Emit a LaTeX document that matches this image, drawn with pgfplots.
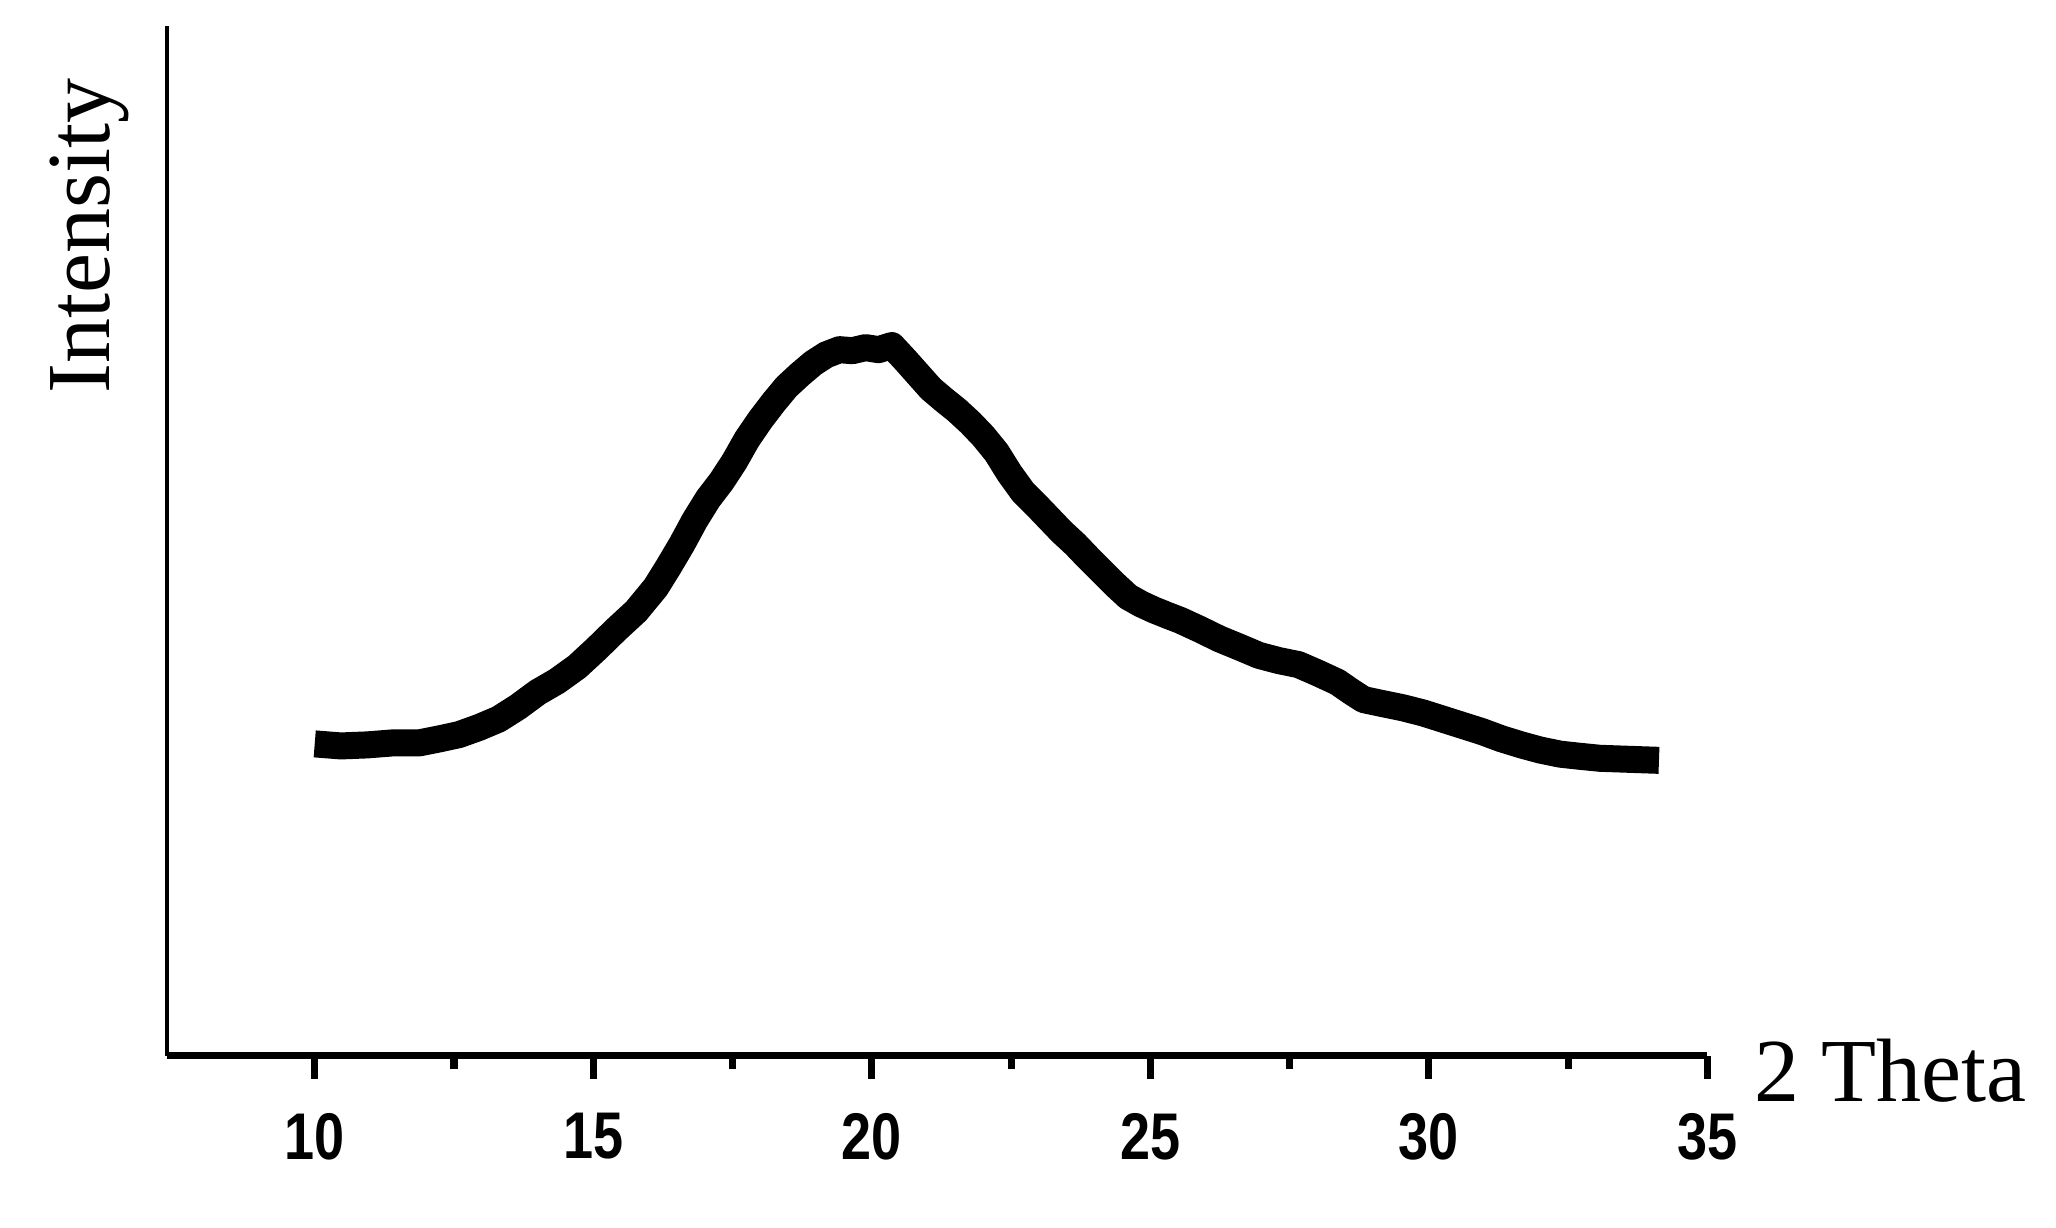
\documentclass[border=0pt]{standalone}
\usepackage{pgfplots}
\pgfplotsset{compat=1.18}
\usepackage{fontspec}
\setmainfont{Liberation Serif}
\newfontfamily\ticksans{Liberation Sans}

\begin{document}
\begin{tikzpicture}
\path[use as bounding box] (-33.3pt,-34.35pt) rectangle (377.8pt,211.1pt);
\begin{axis}[
  at={(0,0)}, anchor=origin,
  scale only axis,
  width=308.1pt, height=205.8pt,
  xmin=7.34, xmax=35,
  ymin=0, ymax=100,
  axis x line=bottom,
  axis y line=left,
  axis line style={-},
  x axis line style={line width=1.4pt},
  y axis line style={line width=0.8pt},
  xtick={10,15,20,25,30,35},
  minor x tick num=1,
  ytick=\empty,
  tick align=outside,
  major tick length=4.6pt,
  minor tick length=2.6pt,
  tick style={line width=1.4pt, black},
  xticklabel style={font=\ticksans\bfseries\fontsize{12}{14}\selectfont, yshift=-3pt, xscale=0.9, yscale=1.1},
  /pgf/number format/assume math mode=true,
  clip=false,
]
\addplot[black, line width=5.4pt, line join=round] coordinates {
  (10.00,30.3) (10.47,30.1) (10.94,30.2) (11.41,30.4) (11.88,30.4)
  (12.25,30.8) (12.59,31.2) (12.95,31.9) (13.30,32.7) (13.65,33.9)
  (14.00,35.3) (14.35,36.4) (14.71,37.8) (15.05,39.5) (15.41,41.4)
  (15.77,43.2) (16.12,45.5) (16.35,47.5) (16.59,49.7) (16.82,52.0)
  (17.06,54.1) (17.30,55.8) (17.53,57.7) (17.76,59.9) (18.00,61.8)
  (18.24,63.5) (18.47,65.0) (18.71,66.2) (18.95,67.3) (19.18,68.1)
  (19.42,68.6) (19.65,68.5) (19.89,68.8) (20.12,68.6) (20.36,69.0)
  (20.60,67.6) (20.83,66.2) (21.06,64.8) (21.30,63.7) (21.53,62.7)
  (21.77,61.5) (22.00,60.2) (22.24,58.6) (22.47,56.6) (22.71,54.8)
  (22.95,53.5) (23.18,52.2) (23.41,50.9) (23.65,49.7) (23.88,48.4)
  (24.12,47.1) (24.36,45.8) (24.60,44.6) (24.83,43.9) (25.07,43.3)
  (25.30,42.8) (25.54,42.3) (25.90,41.4) (26.24,40.5) (26.60,39.7)
  (26.95,38.9) (27.30,38.4) (27.66,38.0) (28.00,37.2) (28.36,36.3)
  (28.60,35.4) (28.83,34.6) (29.18,34.2) (29.54,33.8) (29.90,33.3)
  (30.25,32.7) (30.60,32.1) (30.95,31.5) (31.30,30.8) (31.66,30.2)
  (32.00,29.7) (32.36,29.3) (32.70,29.1) (33.07,28.9) (33.60,28.8)
  (34.13,28.7)
};
\node[anchor=base west, font=\fontsize{18}{20}\selectfont, inner sep=0pt]
  at (rel axis cs:1.0299,-0.0447) {2 Theta};
\node[rotate=90, font=\fontsize{18}{20}\selectfont, inner sep=0pt]
  at (rel axis cs:-0.0503,0.7964) {Intensity};
\end{axis}
\end{tikzpicture}
\end{document}
